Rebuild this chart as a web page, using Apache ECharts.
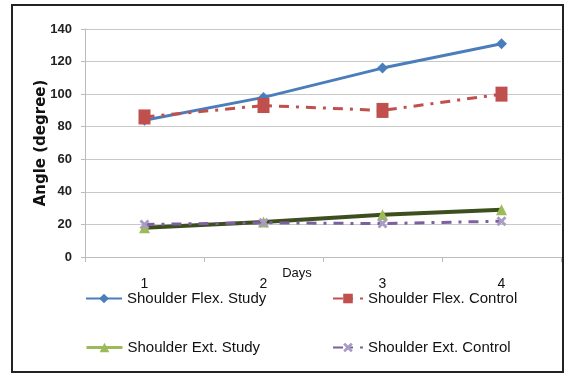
<!DOCTYPE html>
<html><head><meta charset="utf-8">
<script src="https://cdn.jsdelivr.net/npm/echarts@6/dist/echarts.min.js"></script>
<style>html,body{margin:0;padding:0;background:#fff}#c{width:571px;height:379px}</style>
</head><body><div id="c"></div>
<script>
const days = ['1','2','3','4'];
const flexStudy = [84, 98, 116, 131];
const flexControl = [86, 93, 90, 100];
const extStudy = [18, 21.5, 26, 29];
const extControl = [20, 21, 20.5, 22];
const yTicks = {min: 0, max: 140, interval: 20};
const names = ['Shoulder Flex. Study','Shoulder Flex. Control','Shoulder Ext. Study','Shoulder Ext. Control'];

const font = '"Liberation Sans Narrow","Liberation Sans",sans-serif';
const xPath = 'path://M0,2L2,0L5,3L8,0L10,2L7,5L10,8L8,10L5,7L2,10L0,8L3,5Z';

const chart = echarts.init(document.getElementById('c'));
function leg(name, left, top, w, extra){
  return Object.assign({
    data:[name], left:left, top:top, itemWidth:w, itemHeight:12, itemGap:0,
    textStyle:{fontFamily:font, fontSize:15, color:'#111'}, padding:0
  }, extra||{});
}
chart.setOption({
  animation:false,
  graphic:[{type:'rect', shape:{x:12,y:5,width:551,height:367}, style:{fill:'none', stroke:'#222', lineWidth:2}, silent:true}],
  grid:{left:85, right:10, top:29, bottom:122},
  xAxis:{type:'category', data:days, boundaryGap:true,
    name:'Days', nameLocation:'middle', nameGap:10, nameMoveOverlap:false,
    nameTextStyle:{fontFamily:font, fontSize:13, color:'#111', padding:[0,52,0,0]},
    axisLine:{lineStyle:{color:'#bbb', width:1}},
    axisTick:{show:true, length:5, lineStyle:{color:'#bbb'}},
    axisLabel:{margin:20, fontFamily:font, fontSize:14, color:'#111'}},
  yAxis:{type:'value', min:yTicks.min, max:yTicks.max, interval:yTicks.interval,
    name:'Angle (degree)', nameLocation:'middle', nameGap:36, nameRotate:90, nameMoveOverlap:false,
    nameTextStyle:{fontFamily:'"DejaVu Sans","Liberation Sans",sans-serif', fontSize:15, fontWeight:'bold', color:'#111'},
    axisLine:{show:true, lineStyle:{color:'#bbb'}},
    axisTick:{show:true, length:4, lineStyle:{color:'#bbb'}},
    axisLabel:{margin:13, fontFamily:font, fontSize:13, fontWeight:'bold', color:'#222'},
    splitLine:{lineStyle:{color:'#c8c8c8', width:1}}},
  legend:[
    leg(names[0], 85, 291, 36),
    leg(names[1], 332, 291, 30),
    leg(names[2], 85, 340, 36, {data:[{name:names[2], itemStyle:{color:'#9bbb59'}, lineStyle:{color:'#9bbb59', width:3}}]}),
    leg(names[3], 332, 340, 30)
  ],
  series:[
    {name:names[0], type:'line', data:flexStudy, symbol:'diamond', symbolSize:11,
      lineStyle:{color:'#4a7ebb', width:3}, itemStyle:{color:'#4a7ebb'}},
    {name:names[1], type:'line', data:flexControl, symbol:'rect', symbolSize:[12,15],
      lineStyle:{color:'#c0504d', width:3, type:[10,7,3,7]}, itemStyle:{color:'#c0504d'}},
    {name:names[2], type:'line', data:extStudy, symbol:'triangle', symbolSize:11,
      lineStyle:{color:'#3e4f1f', width:4}, itemStyle:{color:'#9bbb59'}, z:3},
    {name:names[3], type:'line', data:extControl, symbol:xPath, symbolSize:10,
      lineStyle:{color:'#7d60a0', width:3, type:[10,7,3,7]}, itemStyle:{color:'#a99bc4'}, z:4}
  ]
});
</script></body></html>
